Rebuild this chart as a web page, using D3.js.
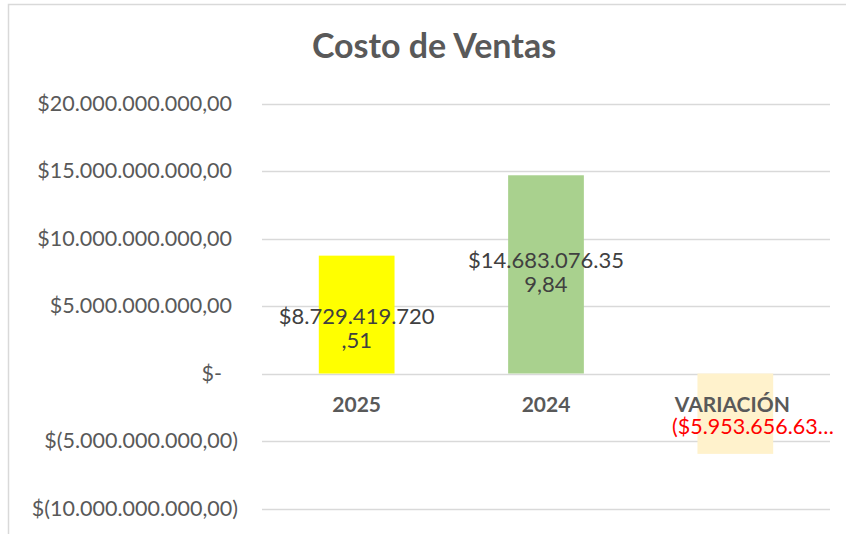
<!DOCTYPE html>
<html>
<head>
<meta charset="utf-8">
<script src="https://cdn.jsdelivr.net/npm/d3@7"></script>
<style>
  body { margin: 0; background: #fff; }
  svg { display: block; font-family: Lato, "Open Sans", sans-serif; }
</style>
</head>
<body>
<script>
// data
const categories = ["2025", "2024", "VARIACIÓN"];
const values = [8729419720.51, 14683076359.84, -5953656639.33];
const barColors = ["#FFFF00", "#A9D18E", "#FFF2CC"];
const yTicks = [-10e9, -5e9, 0, 5e9, 10e9, 15e9, 20e9];

const WIDTH = 846, HEIGHT = 534;

const locale = d3.formatLocale({decimal: ",", thousands: ".", grouping: [3], currency: ["$", ""]});
const money = locale.format(",.2f");
const tickText = v => v === 0 ? "$-" : v < 0 ? "$(" + money(-v) + ")" : "$" + money(v);

const svg = d3.select("body").append("svg")
    .attr("width", WIDTH)
    .attr("height", HEIGHT);

// chart frame
svg.append("path")
    .attr("d", `M8.5,${HEIGHT} V4.5 H${WIDTH}`)
    .attr("fill", "none")
    .attr("stroke", "#D9D9D9")
    .attr("stroke-width", 1.5);

svg.append("text")
    .attr("x", 434)
    .attr("y", 58)
    .attr("text-anchor", "middle")
    .attr("font-size", 34)
    .attr("font-weight", "bold")
    .attr("fill", "#595959")
    .text("Costo de Ventas");

let xScale = d3.scaleBand()
    .domain(categories)
    .range([262, 830])
    .paddingInner(0.6)
    .paddingOuter(0.3);

let yScale = d3.scaleLinear()
    .domain([-10e9, 20e9])
    .range([508.5, 103.5]);

// gridlines
svg.append("g")
    .selectAll("line")
    .data(yTicks)
    .join("line")
    .attr("x1", 262)
    .attr("x2", 830)
    .attr("y1", d => Math.round(yScale(d)) + 0.5)
    .attr("y2", d => Math.round(yScale(d)) + 0.5)
    .attr("stroke", "#D9D9D9")
    .attr("stroke-width", 1.5);

// y axis labels
let yAxis = d3.axisLeft(yScale).tickValues(yTicks).tickFormat(tickText).tickSize(0).tickPadding(0);
let yG = svg.append("g")
    .attr("transform", "translate(232, 0)")
    .call(yAxis);
yG.select(".domain").remove();
yG.selectAll("text")
    .attr("font-family", "Lato, sans-serif")
    .attr("font-size", 21.5)
    .attr("fill", "#595959")
    .attr("dx", d => d < 0 ? 6 : d === 0 ? -10 : 0);

// bars
svg.append("g")
    .selectAll("rect")
    .data(values)
    .join("rect")
    .attr("x", (d, i) => xScale(categories[i]))
    .attr("width", xScale.bandwidth())
    .attr("y", d => yScale(Math.max(0, d)))
    .attr("height", d => Math.abs(yScale(d) - yScale(0)))
    .attr("fill", (d, i) => barColors[i]);

// category labels
svg.append("g")
    .selectAll("text")
    .data(categories)
    .join("text")
    .attr("x", d => xScale(d) + xScale.bandwidth() / 2 - (d === "VARIACIÓN" ? 3 : 0))
    .attr("y", 412)
    .attr("text-anchor", "middle")
    .attr("font-size", 21)
    .attr("font-weight", "bold")
    .attr("fill", "#595959")
    .text(d => d);

// data labels
const labelShift = [13, -2];
values.forEach((v, i) => {
    const cx = xScale(categories[i]) + xScale.bandwidth() / 2;
    if (v >= 0) {
        const s = "$" + money(v);
        const lines = [s.slice(0, 14), s.slice(14)];
        const cy = yScale(v / 2) + labelShift[i];
        svg.append("text")
            .attr("text-anchor", "middle")
            .attr("font-size", 22)
            .attr("fill", "#404040")
            .selectAll("tspan")
            .data(lines)
            .join("tspan")
            .attr("x", cx)
            .attr("y", (d, j) => cy - 4 + j * 24)
            .text(d => d);
    } else {
        const s = "($" + money(-v) + ")";
        svg.append("text")
            .attr("x", 672)
            .attr("y", 434)
            .attr("font-size", 21.5)
            .attr("fill", "#FF0000")
            .text(s.slice(0, 14) + "…");
    }
});
</script>
</body>
</html>
